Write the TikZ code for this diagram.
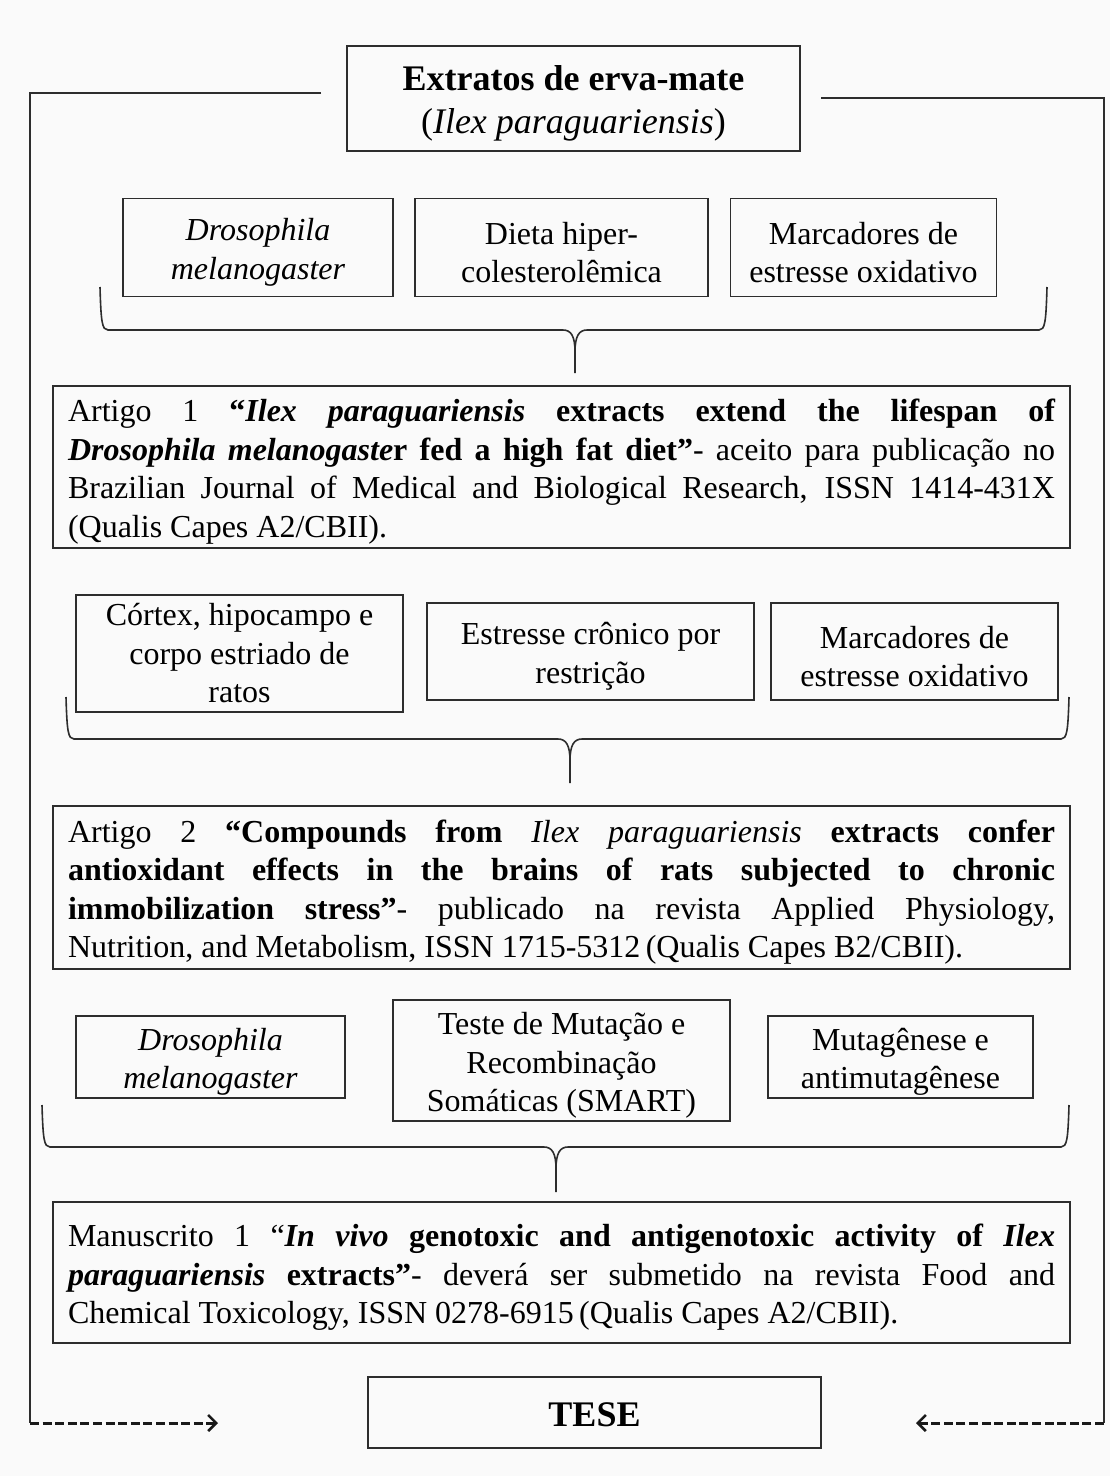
\documentclass[tikz,border=0pt]{standalone}
\usepackage{fontspec}
\setmainfont{Liberation Serif}
\usetikzlibrary{arrows.meta}
\definecolor{linec}{RGB}{45,45,45}
\definecolor{bgc}{RGB}{250,250,250}
\newcommand\fsz{\fontsize{32}{38.5}\selectfont\tolerance=10000\hyphenpenalty=10000}
\newcommand\fbig{\fontsize{36}{43}\selectfont}
\newcommand\up{\rule{0pt}{32pt}}
\newcommand\upbig{\rule{0pt}{34pt}}
\begin{document}
\begin{tikzpicture}[x=1pt,y=-1pt,
  box/.style={draw=linec, line width=1.6pt, inner sep=0pt, align=center, font=\fsz, text=black},
  wide/.style={draw=linec, line width=1.6pt, inner xsep=15pt, inner ysep=0pt, text width=987pt, align=justify, font=\fsz, minimum height=#1},
  bracec/.style={draw=linec, line width=1.6pt},
  link/.style={draw=linec, line width=1.4pt},
  dashlink/.style={draw=black!90, line width=3pt, dash pattern=on 9pt off 3.6pt, -{Straight Barb[length=8pt,width=16pt,line width=2.6pt]}}]
\fill[bgc] (0,0) rectangle (1110,1476);
\useasboundingbox (0,0) rectangle (1110,1476);

% top
\node[box, minimum width=453pt, minimum height=105pt, font=\fbig] (top) at (573.5,98.5)
  {\upbig\textbf{Extratos de erva-mate}\\(\textit{Ilex paraguariensis})};

% row 1
\node[box, minimum width=270pt, minimum height=98pt] (d1) at (258,247.5) {\up\textit{Drosophila}\\\textit{melanogaster}};
\node[box, minimum width=293pt, minimum height=98pt] (d2) at (561.5,247.5) {\up Dieta hiper-\\colesterolêmica};
\node[box, minimum width=266pt, minimum height=98pt] (d3) at (863.5,247.5) {\up Marcadores de\\estresse oxidativo};

\node[wide=162pt] (a1) at (561.5,467) {\up Artigo 1 \textbf{“\textit{Ilex paraguariensis} extracts extend the lifespan of\linebreak \textit{Drosophila melanogaste}r fed a high fat diet”}- aceito para publicação no\linebreak Brazilian Journal of Medical and Biological Research, ISSN 1414-431X\linebreak (Qualis Capes A2/CBII).};

% row 2
\node[box, minimum width=327pt, minimum height=117pt] (c1) at (239.5,653.5) {Córtex, hipocampo e\\corpo estriado de\\ratos};
\node[box, minimum width=327pt, minimum height=97pt] (c2) at (590.5,651.5) {\up Estresse crônico por\\restrição};
\node[box, minimum width=287pt, minimum height=97pt] (c3) at (914.5,651.5) {\up Marcadores de\\estresse oxidativo};

\node[wide=163pt] (a2) at (561.5,887.5) {\up Artigo 2 \textbf{“Compounds from \textnormal{\textit{Ilex paraguariensis}} extracts confer\linebreak antioxidant effects in the brains of rats subjected to chronic\linebreak immobilization stress”}- publicado na revista Applied Physiology,\linebreak Nutrition, and Metabolism, ISSN 1715-5312\,(Qualis Capes B2/CBII).};

% row 3
\node[box, minimum width=269pt, minimum height=82pt] (m1) at (210.5,1057) {\up\textit{Drosophila}\\\textit{melanogaster}};
\node[box, minimum width=337pt, minimum height=121pt] (m2) at (561.5,1060.5) {\up Teste de Mutação e\\Recombinação\\Somáticas (SMART)};
\node[box, minimum width=265pt, minimum height=82pt] (m3) at (900.5,1057) {\up Mutagênese e\\antimutagênese};

\node[wide=141pt] (ms) at (561.5,1272.5) {\up Manuscrito 1 “\textbf{\textit{In vivo} genotoxic and antigenotoxic activity of \textit{Ilex}\linebreak \textit{paraguariensis} extracts”}- deverá ser submetido na revista Food and\linebreak Chemical Toxicology, ISSN 0278-6915\,(Qualis Capes A2/CBII).};

% final
\node[box, minimum width=453pt, minimum height=71pt, font=\fbig] (tese) at (594.5,1412.5) {\rule{0pt}{29pt}\textbf{TESE}};

% braces
\coordinate (b1) at (575,373);
\coordinate (b2) at (570,783);
\coordinate (b3) at (556,1192);
\draw[bracec] (100,287) .. controls (101,322) and (102,330) .. (108,330) -- (563,330)
  .. controls (571,330) and (575,336) .. (575,352) -- (b1);
\draw[bracec] (1047,287) .. controls (1046,322) and (1045,330) .. (1039,330) -- (587,330)
  .. controls (579,330) and (575,336) .. (575,352);
\draw[bracec] (66,697) .. controls (67,731) and (68,739) .. (74,739) -- (558,739)
  .. controls (566,739) and (570,745) .. (570,761) -- (b2);
\draw[bracec] (1069,697) .. controls (1068,731) and (1067,739) .. (1061,739) -- (582,739)
  .. controls (574,739) and (570,745) .. (570,761);
\draw[bracec] (42,1105) .. controls (43,1139) and (44,1147) .. (50,1147) -- (544,1147)
  .. controls (552,1147) and (556,1153) .. (556,1169) -- (b3);
\draw[bracec] (1069,1105) .. controls (1068,1139) and (1067,1147) .. (1061,1147) -- (568,1147)
  .. controls (560,1147) and (556,1153) .. (556,1169);

% outer connectors
\coordinate (tl) at (321,93);
\coordinate (tr) at (821,98);
\coordinate (cl) at (30,1423);
\coordinate (cr) at (1104,1423);
\coordinate (el) at (218,1423);
\coordinate (er) at (916,1423);
\draw[link] (tl) -- (30,93) -- (cl);
\draw[link] (tr) -- (1104,98) -- (cr);
\draw[dashlink] (cl) -- (el);
\draw[dashlink] (cr) -- (er);
\end{tikzpicture}
\end{document}
